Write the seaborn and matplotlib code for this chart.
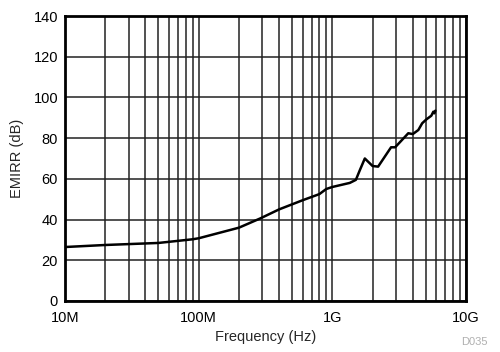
import numpy as np
import pandas as pd
import matplotlib
matplotlib.use("Agg")
import matplotlib.pyplot as plt
import seaborn as sns
from matplotlib.ticker import FixedLocator, LogLocator, NullFormatter

freq_hz = [10e6, 20e6, 50e6, 90e6, 100e6, 200e6, 290e6, 400e6, 600e6, 800e6,
           900e6, 1.0e9, 1.35e9, 1.5e9, 1.6e9, 1.75e9, 2.0e9, 2.2e9, 2.75e9,
           2.95e9, 3.7e9, 4.0e9, 4.4e9, 4.7e9, 5.05e9, 5.5e9, 5.7e9, 5.8e9, 5.9e9]
emirr_db = [26.5, 27.5, 28.5, 30.3, 30.8, 36.0, 40.6, 45.0, 49.5, 52.5,
            55.0, 56.0, 58.0, 59.5, 64.0, 70.0, 66.3, 66.0, 75.5,
            75.5, 82.4, 82.0, 84.0, 87.3, 89.2, 91.0, 93.0, 92.2, 93.5]
x_ticks = [1e7, 1e8, 1e9, 1e10]
x_labels = ["10M", "100M", "1G", "10G"]
y_ticks = [0, 20, 40, 60, 80, 100, 120, 140]

df = pd.DataFrame({"Frequency": freq_hz, "EMIRR": emirr_db})

sns.set_style("white")
plt.rcParams['font.family'] = ['Liberation Sans', 'DejaVu Sans']

fig, ax = plt.subplots(figsize=(5.0, 3.52), dpi=100)
fig.subplots_adjust(left=0.13, right=0.932, top=0.9545, bottom=0.145)

sns.lineplot(data=df, x="Frequency", y="EMIRR", ax=ax, color="black", linewidth=1.8)

ax.set_xscale("log")
ax.set_xlim(1e7, 1e10)
ax.set_ylim(0, 140)
ax.xaxis.set_major_locator(FixedLocator(x_ticks))
ax.set_xticklabels(x_labels)
ax.xaxis.set_minor_locator(LogLocator(base=10, subs=np.arange(2, 10)))
ax.xaxis.set_minor_formatter(NullFormatter())
ax.set_yticks(y_ticks)

ax.grid(True, which="both", axis="x", color="#222222", linewidth=1.1)
ax.grid(True, which="major", axis="y", color="#222222", linewidth=1.1)
ax.tick_params(which="both", length=0, labelsize=10.5, colors="black")
ax.tick_params(axis="x", pad=7)
ax.tick_params(axis="y", pad=5)

for s in ax.spines.values():
    s.set_visible(True)
    s.set_color("black")
    s.set_linewidth(2.0)

ax.set_xlabel("Frequency (Hz)", fontsize=10.5, labelpad=4)
ax.set_ylabel("EMIRR (dB)", fontsize=10.5, labelpad=7)
fig.text(0.976, 0.015, "D035", fontsize=8, color="#b0b0b0", ha="right", va="bottom")

fig.savefig("out.png", dpi=100)
